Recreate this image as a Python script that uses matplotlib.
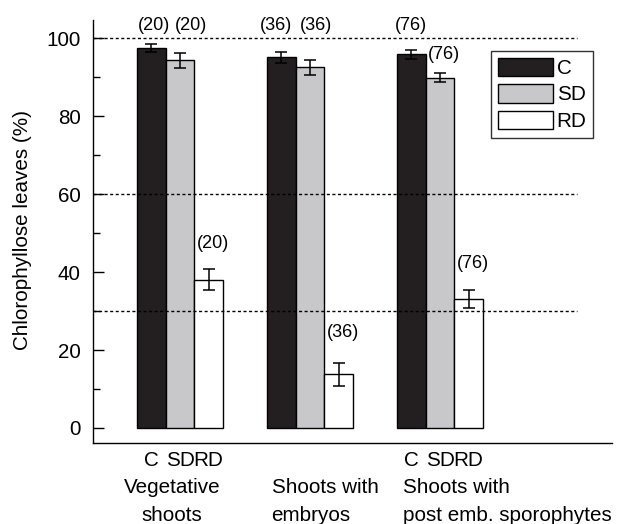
import numpy as np
import matplotlib
matplotlib.use("Agg")
import matplotlib.pyplot as plt
from matplotlib.ticker import MultipleLocator
import matplotlib.transforms as mtransforms

plt.rcParams['font.family'] = ['Liberation Sans', 'DejaVu Sans']

# Data
groups = ["Vegetative\nshoots", "Shoots with\nembryos", "Shoots with\npost emb. sporophytes"]
treatments = ["C", "SD", "RD"]
means_C = [97.6, 95.1, 95.9]
means_SD = [94.4, 92.6, 89.9]
means_RD = [38.1, 13.8, 33.2]
err_C = [1.0, 1.4, 1.1]
err_SD = [1.9, 1.9, 1.2]
err_RD = [2.6, 2.9, 2.3]
n_C = [20, 36, 76]
n_SD = [20, 36, 76]
n_RD = [20, 36, 76]
ref_lines = [100, 60, 30]

colors = ["#231f20", "#c8c8ca", "#ffffff"]
FS = 14.9
NFS = 13

fig = plt.figure(figsize=(6.18, 5.24), dpi=100)
ax = fig.add_axes([93/618, 81/524, 519/618, 422.5/524])

x = np.arange(len(groups))
w = 0.22
offsets = [-w, 0.0, w]
means = [means_C, means_SD, means_RD]
errs = [err_C, err_SD, err_RD]

for k in range(3):
    ax.bar(x + offsets[k], means[k], width=w, color=colors[k], edgecolor="black",
           linewidth=1.0, label=treatments[k], zorder=2)
    ax.errorbar(x + offsets[k], means[k], yerr=errs[k], fmt="none", ecolor="black",
                elinewidth=1.1, capsize=4, capthick=1.1, zorder=3)

# Dotted reference lines on top of bars
for yv in ref_lines:
    ax.plot([-0.669, 3.054], [yv, yv], color="black", linewidth=1.0,
            linestyle=(0, (2.2, 1.8)), zorder=4)

ax.set_xlim(-0.669, 3.323)
ax.set_ylim(-3.85, 104.57)

# Sample size labels
n_labels = [
    (x[0] - w + 0.02, 103.2, n_C[0]), (x[0] + 0.085, 103.2, n_SD[0]),
    (x[1] - w - 0.045, 103.2, n_C[1]), (x[1] + 0.05, 103.2, n_SD[1]),
    (x[2] - w, 103.2, n_C[2]), (x[2] + 0.027, 95.8, n_SD[2]),
    (x[0] + w + 0.035, 47.4, n_RD[0]), (x[1] + w + 0.035, 24.4, n_RD[1]),
    (x[2] + w + 0.03, 42.3, n_RD[2]),
]
for xx, yy, n in n_labels:
    ax.text(xx, yy, f"({n})", ha="center", va="center", fontsize=NFS, zorder=5)

# Axes styling
for s in ["top", "right"]:
    ax.spines[s].set_visible(False)
ax.spines["left"].set_linewidth(1.0)
ax.spines["bottom"].set_linewidth(1.0)

ax.yaxis.set_major_locator(MultipleLocator(20))
ax.yaxis.set_minor_locator(MultipleLocator(10))
ax.tick_params(axis="y", which="major", direction="in", length=8, width=1.0,
               labelsize=FS, pad=9)
ax.tick_params(axis="y", which="minor", direction="in", length=5, width=1.0)

tick_pos = [x[0] + o for o in offsets] + [x[2] + o for o in offsets]
ax.set_xticks(tick_pos)
ax.set_xticklabels(treatments * 2)
ax.tick_params(axis="x", length=0, labelsize=FS, pad=6)

ax.set_ylabel("Chlorophyllose leaves (%)", fontsize=FS)
ax.yaxis.set_label_coords(-0.118, 0.504)

# Group names beneath the treatment labels
trans = mtransforms.blended_transform_factory(ax.transData, ax.transAxes)
group_x = [-0.062, 0.704, 1.715]
group_ha = ["center", "left", "left"]
for gx, ha, name in zip(group_x, group_ha, groups):
    lines = name.split("\n")
    for line, yy in zip(lines, [-0.1055, -0.1715]):
        ax.text(gx, yy, line, transform=trans, ha=ha, va="center", fontsize=FS)

leg = ax.legend(loc="upper left", bbox_to_anchor=(0.767, 0.928), borderaxespad=0,
                fontsize=FS, frameon=True, fancybox=False, edgecolor="black",
                handlelength=2.65, handleheight=1.0, labelspacing=0.3,
                borderpad=0.32, handletextpad=0.2)
leg.get_frame().set_linewidth(1.0)

fig.savefig("out.png", dpi=100)
